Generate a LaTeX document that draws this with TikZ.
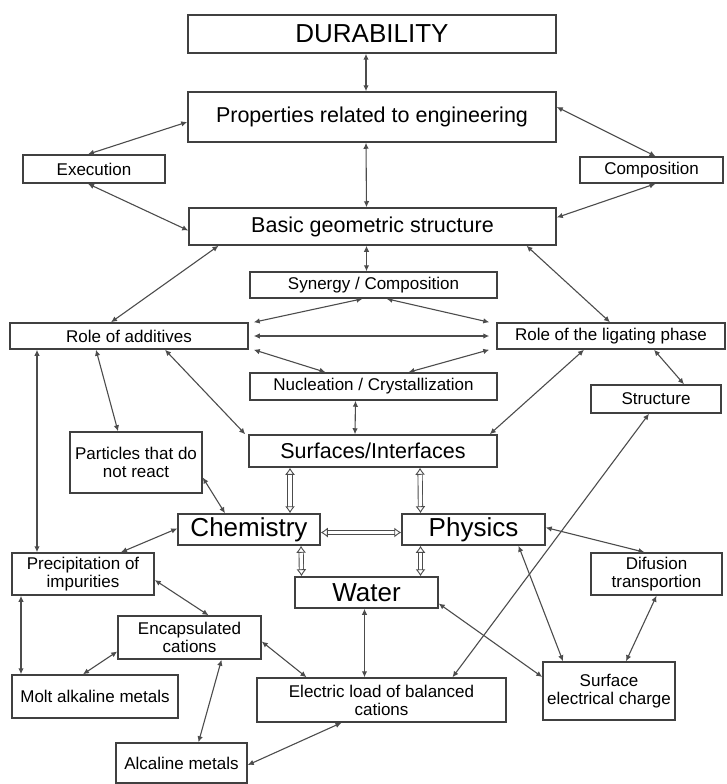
\documentclass[tikz,border=0pt]{standalone}
\usepackage{fontspec}
\setmainfont{Liberation Sans}
\usetikzlibrary{arrows.meta}

\begin{document}
\begin{tikzpicture}[x=1pt, y=-1pt,
    box/.style={draw=black!75, line width=1.5pt, fill=white, inner sep=1pt, align=center,
        font=\fontsize{17}{18}\selectfont},
    bigtxt/.style={font=\fontsize{21.5}{24}\selectfont},
    hugetxt/.style={font=\fontsize{26}{28}\selectfont},
    link/.style={draw=black!70, line width=1.1pt, {Latex[length=6pt,width=5.5pt]}-{Latex[length=6pt,width=5.5pt]}},
    dlink/.style={draw=black!70, double=white, double distance=3.4pt, line width=0.9pt,
        {Latex[open,length=7pt,width=10pt]}-{Latex[open,length=7pt,width=10pt]}}]
    \useasboundingbox (0,0) rectangle (727,784);

    % Upper levels
    \node[box, hugetxt, minimum width=368pt, minimum height=38pt] (dur) at (372,34) {DURABILITY};
    \node[box, bigtxt, minimum width=368pt, minimum height=50pt] (prop) at (372,117) {Properties related to engineering};
    \node[box, minimum width=142pt, minimum height=28pt] (exec) at (94,169) {Execution};
    \node[box, minimum width=143pt, minimum height=26pt] (comp) at (651.5,170) {Composition};
    \node[box, bigtxt, minimum width=367pt, minimum height=37pt] (basic) at (372.5,226.5) {Basic geometric structure};

    % Middle row
    \node[box, minimum width=247pt, minimum height=26pt] (syn) at (373.5,285) {Synergy / Composition};
    \node[box, minimum width=238pt, minimum height=26pt] (addit) at (129,336) {Role of additives};
    \node[box, minimum width=228pt, minimum height=26pt] (ligat) at (611,336) {Role of the ligating phase};
    \node[box, minimum width=247pt, minimum height=27pt] (nucl) at (373.5,386.5) {Nucleation / Crystallization};
    \node[box, minimum width=130pt, minimum height=28pt] (struct) at (656,399) {Structure};
    \node[box, bigtxt, minimum width=248pt, minimum height=32pt] (surf) at (373,451) {Surfaces/Interfaces};
    \node[box, minimum width=132pt, minimum height=61pt] (partic) at (136,462.5) {Particles that do\\not react};

    % Chemistry, physics, water
    \node[box, hugetxt, minimum width=142pt, minimum height=31pt] (chem) at (249,529.5) {Chemistry};
    \node[box, hugetxt, minimum width=143pt, minimum height=31pt] (phys) at (473.5,529.5) {Physics};
    \node[box, hugetxt, minimum width=143pt, minimum height=31pt] (water) at (366.5,592.5) {Water};

    % Lower boxes
    \node[box, minimum width=142pt, minimum height=42pt] (precip) at (83,574) {Precipitation of\\impurities};
    \node[box, minimum width=131pt, minimum height=42pt] (difus) at (656.5,574) {Difusion\\transportion};
    \node[box, minimum width=143pt, minimum height=43pt] (encap) at (189.5,637.5) {Encapsulated\\cations};
    \node[box, minimum width=166pt, minimum height=43pt] (molt) at (95,696.5) {Molt alkaline metals};
    \node[box, minimum width=249pt, minimum height=44pt] (elec) at (381.5,700) {Electric load of balanced\\cations};
    \node[box, minimum width=132pt, minimum height=58pt] (surfch) at (609,691) {Surface\\electrical charge};
    \node[box, minimum width=131pt, minimum height=40pt] (alcal) at (181.5,763) {Alcaline metals};

    % Links of the upper levels
    \draw[link] ([xshift=-6pt]dur.south) -- ([xshift=-6pt]prop.north);
    \draw[link] ([yshift=-5pt]prop.west) -- ([xshift=-6pt]exec.north);
    \draw[link] ([yshift=10pt]prop.east) -- ([xshift=4pt]comp.north);
    \draw[link] ([xshift=-6pt]prop.south) -- ([xshift=-6pt]basic.north);
    \draw[link] ([xshift=-6pt]exec.south) -- ([yshift=-4pt]basic.west);
    \draw[link] ([xshift=4pt]comp.south) -- ([yshift=9pt]basic.east);
    \draw[link] ([xshift=-154pt]basic.south) -- ([xshift=-18pt]addit.north);
    \draw[link] ([xshift=-6pt]basic.south) -- ([xshift=-7pt]syn.north);
    \draw[link] ([xshift=154pt]basic.south) -- ([xshift=-1pt]ligat.north);

    % Links of the middle row
    \draw[link] ([xshift=-11pt]syn.south) -- ([xshift=5pt]addit.north east);
    \draw[link] ([xshift=13pt]syn.south) -- ([xshift=-7pt]ligat.north west);
    \draw[link] ([xshift=5pt]addit.east) -- ([xshift=-7pt]ligat.west);
    \draw[link] ([xshift=5pt]addit.south east) -- ([xshift=-48pt]nucl.north);
    \draw[link] ([xshift=-7pt]ligat.south west) -- ([xshift=35pt]nucl.north);
    \draw[link] ([xshift=-92pt]addit.south) -- ([xshift=-46pt]precip.north);
    \draw[link] ([xshift=-33pt]addit.south) -- ([xshift=-18pt]partic.north);
    \draw[link] ([xshift=36pt]addit.south) -- ([xshift=-3pt]surf.north west);
    \draw[link] ([xshift=-27pt]ligat.south) -- ([xshift=-8pt]surf.north east);
    \draw[link] ([xshift=-18pt]nucl.south) -- ([xshift=-18pt]surf.north);
    \draw[link] ([xshift=43pt]ligat.south) -- ([xshift=28pt]struct.north);
    \draw[link] ([xshift=-7pt]struct.south) -- ([xshift=71pt]elec.north);

    % Hollow links
    \draw[dlink] ([xshift=-83pt]surf.south) -- ([xshift=41pt]chem.north);
    \draw[dlink] ([xshift=47pt]surf.south) -- ([xshift=-53pt]phys.north);
    \draw[dlink] ([yshift=-3pt]chem.east) -- ([yshift=-3pt]phys.west);
    \draw[dlink] ([xshift=52pt]chem.south) -- ([xshift=-65pt]water.north);
    \draw[dlink] ([xshift=-53pt]phys.south) -- ([xshift=54pt]water.north);

    % Links of the lower part
    \draw[link] ([yshift=-15pt]partic.east) -- ([xshift=-24pt]chem.north);
    \draw[link] ([yshift=1pt]chem.west) -- ([xshift=38pt]precip.north);
    \draw[link] ([yshift=2pt]phys.east) -- ([xshift=-12pt]difus.north);
    \draw[link] ([xshift=45pt]phys.south) -- ([xshift=-46pt]surfch.north);
    \draw[link] ([yshift=-11pt]water.east) -- ([yshift=14pt]surfch.west);
    \draw[link] ([xshift=-2pt]water.south) -- ([xshift=-17pt]elec.north);
    \draw[link] (difus.south) -- ([xshift=17pt]surfch.north);
    \draw[link] ([xshift=-62pt]precip.south) -- ([xshift=-74pt]molt.north);
    \draw[link] ([yshift=-6pt]precip.east) -- ([xshift=19pt]encap.north);
    \draw[link] ([yshift=-14pt]encap.west) -- ([xshift=-12pt]molt.north);
    \draw[link] ([yshift=-4pt]encap.east) -- ([xshift=-75pt]elec.north);
    \draw[link] ([xshift=32pt]encap.south) -- ([xshift=17pt]alcal.north);
    \draw[link] ([xshift=-40pt]elec.south) -- ([yshift=-2pt]alcal.east);
\end{tikzpicture}
\end{document}
